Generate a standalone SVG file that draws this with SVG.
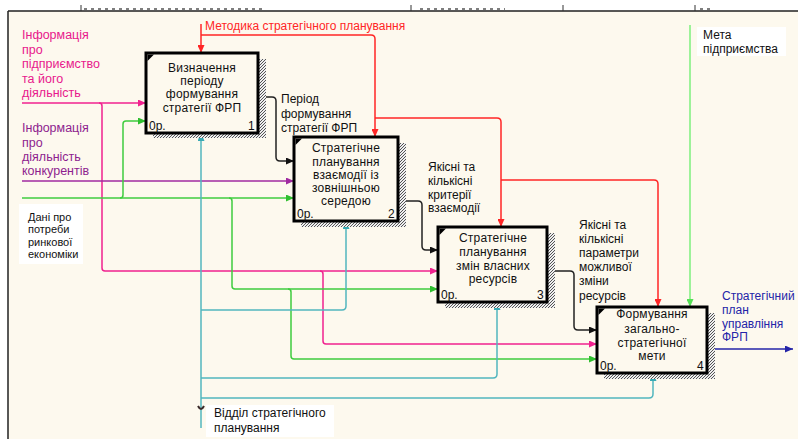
<svg xmlns="http://www.w3.org/2000/svg" width="798" height="439" viewBox="0 0 798 439">
  <style>
    text { font-family: "Liberation Sans", Arial, sans-serif; font-size: 12px; fill: #111; }
    .box { fill: #fdf9ee; stroke: #000; stroke-width: 3; }
    .shadow { fill: url(#hatch); }
    .ctr { text-anchor: middle; letter-spacing: 0.2px; }
    .side { font-size: 12.5px; }
    .c { fill: none; stroke-width: 1.5; }
    .red { stroke: #ff2626; }
    .lgreen { stroke: #7def7d; }
    .mag { stroke: #f0228f; }
    .pur { stroke: #a02aa0; }
    .grn { stroke: #3fcc3f; }
    .blk { stroke: #222; }
    .blu { stroke: #2424a8; }
    .teal { stroke: #52b6be; }
    .lbl-bg { fill: #fff; }
  </style>
  <defs>
    <pattern id="hatch" width="3" height="3" patternUnits="userSpaceOnUse">
      <rect width="3" height="3" fill="#eeeeee"/>
      <rect x="0" y="0" width="1" height="1" fill="#555"/>
      <rect x="2" y="1" width="1" height="1" fill="#555"/>
      <rect x="1" y="2" width="1" height="1" fill="#555"/>
    </pattern>
    <marker id="aRed" markerWidth="8" markerHeight="7" refX="8" refY="3.5" orient="auto" markerUnits="userSpaceOnUse"><path d="M0,0 L8,3.5 L0,7 z" fill="#ff2626"/></marker>
    <marker id="aLgreen" markerWidth="8" markerHeight="7" refX="8" refY="3.5" orient="auto" markerUnits="userSpaceOnUse"><path d="M0,0 L8,3.5 L0,7 z" fill="#55e055"/></marker>
    <marker id="aMag" markerWidth="8" markerHeight="7" refX="8" refY="3.5" orient="auto" markerUnits="userSpaceOnUse"><path d="M0,0 L8,3.5 L0,7 z" fill="#f0228f"/></marker>
    <marker id="aPur" markerWidth="8" markerHeight="7" refX="8" refY="3.5" orient="auto" markerUnits="userSpaceOnUse"><path d="M0,0 L8,3.5 L0,7 z" fill="#a02aa0"/></marker>
    <marker id="aGrn" markerWidth="8" markerHeight="7" refX="8" refY="3.5" orient="auto" markerUnits="userSpaceOnUse"><path d="M0,0 L8,3.5 L0,7 z" fill="#2fbf2f"/></marker>
    <marker id="aBlk" markerWidth="8" markerHeight="7" refX="8" refY="3.5" orient="auto" markerUnits="userSpaceOnUse"><path d="M0,0 L8,3.5 L0,7 z" fill="#111"/></marker>
    <marker id="aBlu" markerWidth="8" markerHeight="7" refX="8" refY="3.5" orient="auto" markerUnits="userSpaceOnUse"><path d="M0,0 L8,3.5 L0,7 z" fill="#2424a8"/></marker>
    <marker id="aTeal" markerWidth="8" markerHeight="7" refX="8" refY="3.5" orient="auto" markerUnits="userSpaceOnUse"><path d="M0,0 L8,3.5 L0,7 z" fill="#3aaab4"/></marker>
  </defs>

  <!-- sheet and frame -->
  <rect width="798" height="439" fill="#fff"/>
  <rect x="8" y="11" width="790" height="428" fill="#fdf9ee"/>
  <path d="M8,11 H798 M8,11 V439" stroke="#222" stroke-width="1.5" fill="none"/>
  <path d="M81,5 V11 M411,5 V11 M563,5 V11 M695,5 V11" stroke="#333" stroke-width="1" fill="none"/>
  <path d="M84,9 H265 M420,9 H505 M700,9 H712" stroke="#555" stroke-width="1.5" stroke-dasharray="3 4" fill="none"/>

  <!-- connectors -->
  <g id="connectors">
    <!-- controls -->
    <path class="c red" d="M201,24 V53" marker-end="url(#aRed)"/>
    <path class="c red" d="M201,35 H371 Q375,35 375,39 V137" marker-end="url(#aRed)"/>
    <path class="c red" d="M375,118 H497 Q501,118 501,122 V227" marker-end="url(#aRed)"/>
    <path class="c red" d="M501,180 H654 Q658,180 658,184 V307" marker-end="url(#aRed)"/>
    <path class="c lgreen" d="M690,25 V307" marker-end="url(#aLgreen)"/>

    <!-- inputs -->
    <path class="c mag" d="M22,103 H146" marker-end="url(#aMag)"/>
    <path class="c mag" d="M99,103 Q102,103 102,106 V268 Q102,271 105,271 H438" marker-end="url(#aMag)"/>
    <path class="c mag" d="M320,271 Q323,271 323,274 V341 Q323,344 326,344 H597" marker-end="url(#aMag)"/>
    <path class="c pur" d="M22,181 H294" marker-end="url(#aPur)"/>
    <path class="c grn" d="M22,198 H294" marker-end="url(#aGrn)"/>
    <path class="c grn" d="M120,198 Q123,198 123,195 V124 Q123,121 126,121 H146" marker-end="url(#aGrn)"/>
    <path class="c grn" d="M229,198 Q232,198 232,201 V286 Q232,289 235,289 H438" marker-end="url(#aGrn)"/>
    <path class="c grn" d="M288,289 Q291,289 291,292 V356 Q291,359 294,359 H597" marker-end="url(#aGrn)"/>

    <!-- outputs -->
    <path class="c blk" d="M258,97 H272 Q276,97 276,101 V157 Q276,161 280,161 H294" marker-end="url(#aBlk)"/>
    <path class="c blk" d="M398,201 H418 Q422,201 422,205 V246 Q422,250 426,250 H438" marker-end="url(#aBlk)"/>
    <path class="c blk" d="M547,271 H570 Q574,271 574,275 V326 Q574,330 578,330 H597" marker-end="url(#aBlk)"/>
    <path class="c blu" d="M707,349 H793" marker-end="url(#aBlu)"/>

    <!-- mechanisms -->
    <path class="c teal" d="M201,428 V133" marker-end="url(#aTeal)"/>
    <path class="c teal" d="M201,310 H342 Q346,310 346,306 V221" marker-end="url(#aTeal)"/>
    <path class="c teal" d="M201,378 H493 Q497,378 497,374 V302" marker-end="url(#aTeal)"/>
    <path class="c teal" d="M201,398 H649 Q653,398 653,394 V373" marker-end="url(#aTeal)"/>
    <path d="M198,406 Q201,412 204,406" fill="none" stroke="#3a2a2a" stroke-width="2"/>
  </g>

  <!-- activity boxes -->
  <g id="box1">
    <rect class="shadow" x="258" y="59" width="8" height="79"/>
    <rect class="shadow" x="153" y="133" width="113" height="5"/>
    <rect class="box" x="146" y="53" width="112" height="80"/>
    <path d="M147.5,54.5 H154 L147.5,61 z" fill="#000"/>
    <text class="ctr" x="202" y="72">Визначення</text>
    <text class="ctr" x="202" y="85">періоду</text>
    <text class="ctr" x="202" y="98">формування</text>
    <text class="ctr" x="202" y="112">стратегії ФРП</text>
    <text x="149" y="130">0р.</text>
    <text x="248" y="130">1</text>
  </g>

  <g id="box2">
    <rect class="shadow" x="398" y="143" width="8" height="84"/>
    <rect class="shadow" x="301" y="221" width="105" height="6"/>
    <rect class="box" x="294" y="137" width="104" height="84"/>
    <path d="M295.5,138.5 H302 L295.5,145 z" fill="#000"/>
    <text class="ctr" x="346" y="152">Стратегічне</text>
    <text class="ctr" x="346" y="166">планування</text>
    <text class="ctr" x="346" y="179">взаємодії із</text>
    <text class="ctr" x="346" y="192">зовнішньою</text>
    <text class="ctr" x="346" y="205">середою</text>
    <text x="297" y="218">0р.</text>
    <text x="388" y="218">2</text>
  </g>

  <g id="box3">
    <rect class="shadow" x="547" y="233" width="8" height="75"/>
    <rect class="shadow" x="445" y="302" width="110" height="6"/>
    <rect class="box" x="438" y="227" width="109" height="75"/>
    <path d="M439.5,228.5 H446 L439.5,235 z" fill="#000"/>
    <text class="ctr" x="493" y="242">Стратегічне</text>
    <text class="ctr" x="493" y="256">планування</text>
    <text class="ctr" x="493" y="270">змін власних</text>
    <text class="ctr" x="493" y="283">ресурсів</text>
    <text x="441" y="299">0р.</text>
    <text x="537" y="299">3</text>
  </g>

  <g id="box4">
    <rect class="shadow" x="707" y="313" width="8" height="66"/>
    <rect class="shadow" x="604" y="373" width="111" height="6"/>
    <rect class="box" x="597" y="307" width="110" height="66"/>
    <path d="M598.5,308.5 H605 L598.5,315 z" fill="#000"/>
    <text class="ctr" x="652" y="318">Формування</text>
    <text class="ctr" x="652" y="333">загально-</text>
    <text class="ctr" x="652" y="347">стратегічної</text>
    <text class="ctr" x="652" y="360">мети</text>
    <text x="600" y="370">0р.</text>
    <text x="697" y="370">4</text>
  </g>

  <!-- arrow labels -->
  <g id="lbl-method">
    <text x="205" y="30" style="fill:#ff2626">Методика стратегічного планування</text>
  </g>
  <g id="lbl-info-enterprise">
    <text class="side" x="22" y="39" style="fill:#e8188c">Інформація</text>
    <text class="side" x="22" y="54" style="fill:#e8188c">про</text>
    <text class="side" x="22" y="68" style="fill:#e8188c">підприємство</text>
    <text class="side" x="22" y="83" style="fill:#e8188c">та його</text>
    <text class="side" x="22" y="97" style="fill:#e8188c">діяльність</text>
  </g>
  <g id="lbl-info-competitors">
    <text class="side" x="22" y="132" style="fill:#8e1e8e">Інформація</text>
    <text class="side" x="22" y="147" style="fill:#8e1e8e">про</text>
    <text class="side" x="22" y="161" style="fill:#8e1e8e">діяльність</text>
    <text class="side" x="22" y="175" style="fill:#8e1e8e">конкурентів</text>
  </g>
  <g id="lbl-market">
    <rect class="lbl-bg" x="19" y="204" width="64" height="60"/>
    <text x="28" y="221" style="font-size:11px">Дані про</text>
    <text x="28" y="233" style="font-size:11px">потреби</text>
    <text x="28" y="246" style="font-size:11px">ринкової</text>
    <text x="28" y="258" style="font-size:11px">економіки</text>
  </g>
  <g id="lbl-period">
    <text x="281" y="103">Період</text>
    <text x="281" y="118">формування</text>
    <text x="281" y="132">стратегії ФРП</text>
  </g>
  <g id="lbl-criteria">
    <text x="428" y="171">Якісні та</text>
    <text x="428" y="185">кількісні</text>
    <text x="428" y="199">критерії</text>
    <text x="428" y="212">взаємодії</text>
  </g>
  <g id="lbl-params">
    <text x="579" y="229">Якісні та</text>
    <text x="579" y="243">кількісні</text>
    <text x="579" y="257">параметри</text>
    <text x="579" y="271">можливої</text>
    <text x="579" y="285">зміни</text>
    <text x="579" y="300">ресурсів</text>
  </g>
  <g id="lbl-plan">
    <text x="722" y="300" style="fill:#2424a8">Стратегічний</text>
    <text x="722" y="314" style="fill:#2424a8">план</text>
    <text x="722" y="328" style="fill:#2424a8">управління</text>
    <text x="722" y="341" style="fill:#2424a8">ФРП</text>
  </g>
  <g id="lbl-goal">
    <rect class="lbl-bg" x="697" y="27" width="89" height="29"/>
    <text x="703" y="39">Мета</text>
    <text x="703" y="53">підприємства</text>
  </g>
  <g id="lbl-dept">
    <rect class="lbl-bg" x="206" y="405" width="128" height="32"/>
    <text x="214" y="417">Відділ стратегічного</text>
    <text x="214" y="432">планування</text>
  </g>
</svg>
